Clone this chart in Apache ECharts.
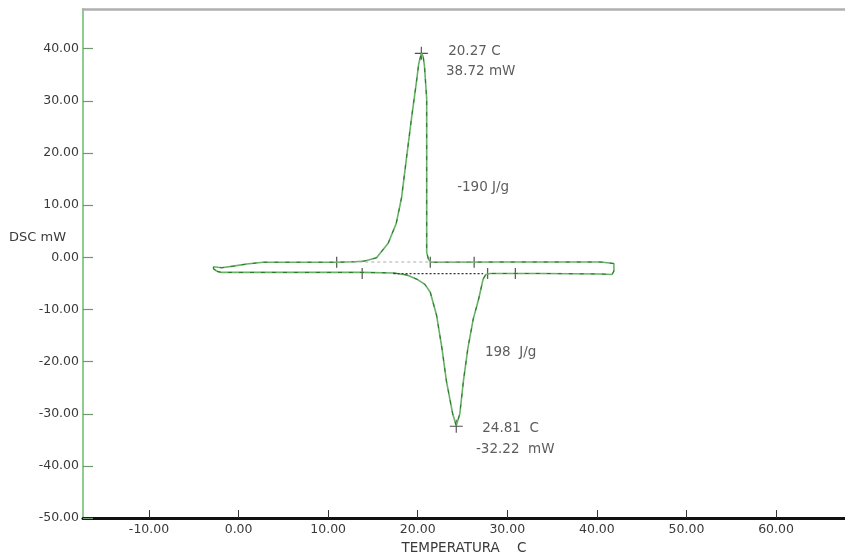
<!DOCTYPE html>
<html>
<head>
<meta charset="utf-8">
<script src="https://cdn.jsdelivr.net/npm/echarts@6/dist/echarts.min.js"></script>
<style>
  html, body { margin: 0; padding: 0; background: #fff; }
  #chart { width: 845px; height: 560px; }
</style>
</head>
<body>
<div id="chart"></div>
<script>
// tick values
var xTicks = [-10, 0, 10, 20, 30, 40, 50, 60];
var yTicks = [-50, -40, -30, -20, -10, 0, 10, 20, 30, 40];

// heating run (lower branch, left to right) then cooling run (upper branch, right to left)
var dscCurve = [
    [-2.4, -2.7], [-1.9, -2.9], [6.9, -2.9], [13.8, -2.9], [17.3, -3.0],
    [18.8, -3.4], [19.9, -4.2], [20.8, -5.2], [21.4, -6.7], [22.1, -11.1],
    [22.7, -17.4], [23.2, -23.7], [23.9, -30.0], [24.3, -32.3], [24.7, -30.0],
    [25.1, -23.7], [25.6, -17.4], [26.2, -11.8], [26.8, -8.0], [27.3, -4.2],
    [27.6, -3.3], [28.1, -3.1], [33.7, -3.1], [40.4, -3.2], [41.7, -3.3],
    [41.9, -2.6], [41.9, -1.2], [40.4, -0.9], [29.2, -0.9], [21.5, -0.95],
    [21.2, -0.4], [21.0, 0.95], [21.0, 5.3], [21.0, 17.8], [21.0, 30.4],
    [20.75, 36.7], [20.6, 38.5], [20.4, 39.1], [20.1, 37.0], [19.9, 34.2],
    [19.3, 26.6], [18.75, 19.1], [18.2, 11.5], [17.6, 6.5], [16.7, 2.7],
    [15.4, -0.1], [14.1, -0.7], [13.0, -0.85], [10.95, -0.95], [2.75, -0.95],
    [0.9, -1.3], [-0.6, -1.7], [-1.9, -2.0], [-2.8, -1.8], [-2.8, -2.2],
    [-2.4, -2.7]
];

// integration baselines
var baselineCooling = [[12.8, -0.9], [26.2, -0.9]];
var baselineHeating = [[17.3, -3.15], [27.3, -3.15]];

// limit ticks on the curve
var limitTicks = [[10.95, -0.95], [21.4, -0.95], [26.3, -0.95], [13.8, -3.1], [27.8, -3.1], [30.9, -3.1]];

// peak markers
var peaks = [[20.4, 39.1], [24.3, -32.4]];

// annotations [x, y, text]
var notes = [
    [23.4, 39.4, '20.27 C'],
    [23.15, 35.7, '38.72 mW'],
    [24.4, 13.4, '-190 J/g'],
    [27.5, -18.3, '198  J/g'],
    [27.2, -32.8, '24.81  C'],
    [26.5, -36.8, '-32.22  mW']
];

var font = 'DejaVu Sans';
var chart = echarts.init(document.getElementById('chart'));
chart.setOption({
    animation: false,
    grid: { left: 83, right: 0, top: 9, bottom: 33 },
    xAxis: [{
        type: 'value',
        min: -17.37,
        max: 67.7,
        name: 'TEMPERATURA    C',
        nameLocation: 'middle',
        nameGap: 18,
        nameTextStyle: { fontFamily: font, fontSize: 13.5, color: '#3a3a3a' },
        splitLine: { show: false },
        axisLine: { onZero: false, lineStyle: { color: '#111', width: 3 } },
        axisTick: { inside: true, length: 8, customValues: xTicks, lineStyle: { color: '#333', width: 1 } },
        axisLabel: {
            customValues: xTicks, margin: 5,
            fontFamily: font, fontSize: 12.5, color: '#3a3a3a',
            formatter: function (v) { return v.toFixed(2); }
        }
    }, {
        type: 'value',
        position: 'top',
        min: -17.37,
        max: 67.7,
        splitLine: { show: false },
        axisLine: { onZero: false, lineStyle: { color: '#b0b0b0', width: 2.5 } },
        axisTick: { show: false },
        axisLabel: { show: false }
    }],
    yAxis: {
        type: 'value',
        min: -50,
        max: 47.6,
        splitLine: { show: false },
        axisLine: { onZero: false, lineStyle: { color: '#8fcc8f', width: 2 } },
        axisTick: { inside: true, length: 10, customValues: yTicks, lineStyle: { color: '#6f9a6f', width: 1.2 } },
        axisLabel: {
            customValues: yTicks, margin: 4,
            fontFamily: font, fontSize: 12.5, color: '#3a3a3a',
            formatter: function (v) { return v.toFixed(2); }
        }
    },
    graphic: [{
        type: 'text', left: 9, top: 231,
        style: { text: 'DSC mW', fontFamily: font, fontSize: 13, fill: '#3a3a3a' }
    }],
    series: [{
        type: 'line',
        data: dscCurve,
        showSymbol: false,
        symbol: 'none',
        lineStyle: { color: '#66b366', width: 1.6 }
    }, {
        type: 'line',
        data: dscCurve,
        symbol: 'none',
        lineStyle: { color: '#2f6f2f', width: 1, type: [4, 7] }
    }, {
        type: 'line',
        data: baselineCooling,
        symbol: 'none',
        lineStyle: { color: '#b8a8b8', width: 1.2, type: [3, 3] }
    }, {
        type: 'line',
        data: baselineHeating,
        symbol: 'none',
        lineStyle: { color: '#333', width: 1.2, type: [2, 2] }
    }, {
        type: 'scatter',
        data: limitTicks,
        symbol: 'rect',
        symbolSize: [1.3, 11],
        itemStyle: { color: '#333' }
    }, {
        type: 'scatter',
        data: peaks,
        symbol: 'path://M6.4,0h1.2v14h-1.2zM0,6.4h14v1.2h-14z',
        symbolSize: 13,
        itemStyle: { color: '#222' }
    }, {
        type: 'scatter',
        data: notes,
        symbolSize: 0,
        label: {
            show: true,
            position: [0, 0],
            align: 'left',
            verticalAlign: 'middle',
            fontFamily: font,
            fontSize: 13.5,
            color: '#333',
            formatter: function (p) { return p.data[2]; }
        }
    }]
});
</script>
</body>
</html>
